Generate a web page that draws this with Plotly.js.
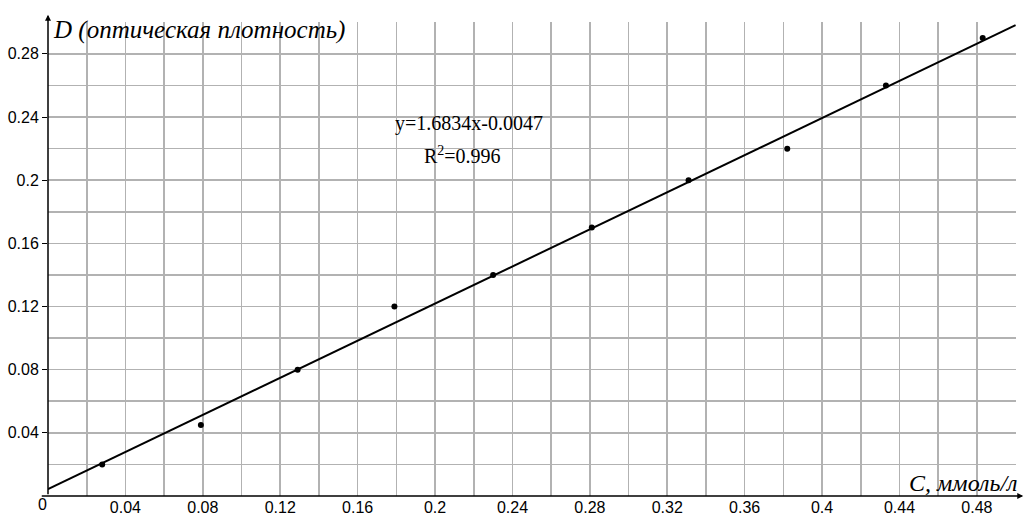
<!DOCTYPE html>
<html>
<head>
<meta charset="utf-8">
<script src="https://cdn.plot.ly/plotly-3.0.1.min.js"></script>
<style>html,body{margin:0;padding:0;background:#fff;}#chart{width:1027px;height:517px;}</style>
</head>
<body>
<div id="chart"></div>
<script>
// Data
var concentration = [0.028, 0.079, 0.129, 0.179, 0.230, 0.281, 0.331, 0.382, 0.433, 0.483];
var density = [0.020, 0.045, 0.080, 0.120, 0.140, 0.170, 0.200, 0.220, 0.260, 0.290];
var xTickVals = [0.04, 0.08, 0.12, 0.16, 0.2, 0.24, 0.28, 0.32, 0.36, 0.4, 0.44, 0.48];
var xTickText = ["0.04", "0.08", "0.12", "0.16", "0.2", "0.24", "0.28", "0.32", "0.36", "0.4", "0.44", "0.48"];
var yTickVals = [0.04, 0.08, 0.12, 0.16, 0.2, 0.24, 0.28];
var yTickText = ["0.04", "0.08", "0.12", "0.16", "0.2", "0.24", "0.28"];
var originLabel = "0";
var trendRange = [0, 0.5];
var equationText = "y=1.6834x-0.0047";
var r2Text = "R<sup>2</sup>=0.996";

// least-squares fit of the measured points (the drawn trend line)
var n = concentration.length, mx = 0, my = 0;
for (var i = 0; i < n; i++) { mx += concentration[i]; my += density[i]; }
mx /= n; my /= n;
var sxy = 0, sxx = 0;
for (var i = 0; i < n; i++) { sxy += (concentration[i]-mx)*(density[i]-my); sxx += (concentration[i]-mx)*(concentration[i]-mx); }
var slope = sxy / sxx, icpt = my - slope*mx;
var trendX = trendRange.slice();
var trendY = trendX.map(function(v){ return slope*v + icpt; });

var grid = '#b2b2b2';
var gw = 1.6;
var traces = [
  {x: trendX, y: trendY, mode: 'lines', line: {color: '#000', width: 2}, hoverinfo: 'skip', cliponaxis: false},
  {x: concentration, y: density, mode: 'markers', marker: {color: '#000', size: 6}}
];

var layout = {
  width: 1027, height: 517,
  margin: {l: 48, r: 11, t: 22, b: 21},
  paper_bgcolor: '#fff', plot_bgcolor: '#fff',
  showlegend: false,
  font: {family: 'Liberation Sans, Arial, sans-serif', size: 16, color: '#000'},
  xaxis: {
    range: [0, 0.5002], fixedrange: true,
    tickmode: 'array', tickvals: xTickVals, ticktext: xTickText,
    showgrid: true, gridcolor: grid, gridwidth: gw,
    minor: {tickmode: 'linear', tick0: 0, dtick: 0.02, showgrid: true, gridcolor: grid, gridwidth: gw, ticks: ''},
    zeroline: false, showline: false, ticks: '',
    tickfont: {family: 'Liberation Sans, Arial, sans-serif', size: 16, color: '#000'}
  },
  yaxis: {
    range: [0, 0.3002], fixedrange: true,
    tickmode: 'array', tickvals: yTickVals, ticktext: yTickText,
    showgrid: true, gridcolor: grid, gridwidth: gw,
    minor: {tickmode: 'linear', tick0: 0, dtick: 0.02, showgrid: true, gridcolor: grid, gridwidth: gw, ticks: ''},
    zeroline: false, showline: false, ticks: 'outside', ticklen: 5, tickcolor: '#000', tickwidth: 1,
    tickfont: {family: 'Liberation Sans, Arial, sans-serif', size: 16, color: '#000'}
  },
  annotations: [
    // axis arrows
    {xref: 'paper', yref: 'paper', x: 1.0075, y: 0, ax: -983, ay: 0, axref: 'pixel', ayref: 'pixel',
     text: '', showarrow: true, arrowhead: 2, arrowsize: 0.8, arrowwidth: 1.5, arrowcolor: '#000'},
    {xref: 'paper', yref: 'paper', x: 0, y: 1.0155, ax: 0, ay: 481, axref: 'pixel', ayref: 'pixel',
     text: '', showarrow: true, arrowhead: 2, arrowsize: 0.8, arrowwidth: 1.5, arrowcolor: '#000'},
    {xref: 'paper', yref: 'paper', x: -0.0052, y: -0.0175, xanchor: 'center', yanchor: 'middle', showarrow: false,
     text: originLabel, font: {family: 'Liberation Sans, Arial, sans-serif', size: 16, color: '#000'}},
    {xref: 'paper', yref: 'paper', x: 0.003, y: 0.984, xanchor: 'left', yanchor: 'middle', showarrow: false,
     text: 'D (оптическая плотность)', font: {family: 'Liberation Serif, Times New Roman, serif', size: 25, color: '#000', style: 'italic'}},
    {xref: 'paper', yref: 'paper', x: 1.004, y: 0.028, xanchor: 'right', yanchor: 'middle', showarrow: false,
     text: 'C, ммоль/л', font: {family: 'Liberation Serif, Times New Roman, serif', size: 24, color: '#000', style: 'italic'}},
    {xref: 'paper', yref: 'paper', x: 0.435, y: 0.7855, xanchor: 'center', yanchor: 'middle', showarrow: false,
     text: equationText, font: {family: 'Liberation Serif, Times New Roman, serif', size: 20, color: '#000'}},
    {xref: 'paper', yref: 'paper', x: 0.428, y: 0.72, xanchor: 'center', yanchor: 'middle', showarrow: false,
     text: r2Text, font: {family: 'Liberation Serif, Times New Roman, serif', size: 20, color: '#000'}}
  ]
};
Plotly.newPlot('chart', traces, layout, {displayModeBar: false, staticPlot: true});
</script>
</body>
</html>
